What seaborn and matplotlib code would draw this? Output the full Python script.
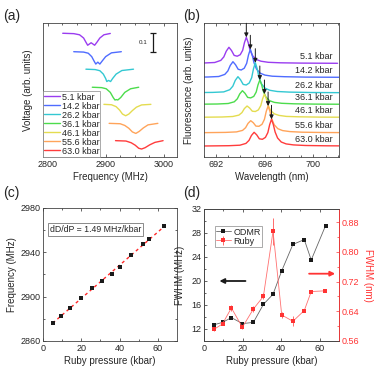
import numpy as np
import pandas as pd
import matplotlib
matplotlib.use("Agg")
import matplotlib.pyplot as plt
import seaborn as sns

# ---------------- data ----------------
labels = ["5.1 kbar", "14.2 kbar", "26.2 kbar", "36.1 kbar", "46.1 kbar", "55.6 kbar", "63.0 kbar"]
colors = ["#9a3cf0", "#4f6cff", "#33c8d2", "#4cdc4c", "#e4dc50", "#ffa45a", "#ff3c3c"]

# (a) ODMR spectra: frequency (MHz) and voltage (arb.)
odmr_f = [
    [2826, 2845, 2855, 2862, 2866, 2869, 2875, 2881, 2885, 2890, 2897, 2908],
    [2845, 2862, 2870, 2876, 2880, 2883, 2886.5, 2890, 2894, 2900, 2910, 2927],
    [2866, 2882, 2890, 2896, 2900, 2902, 2905, 2908.5, 2912, 2918, 2928, 2948],
    [2877, 2893, 2901, 2908, 2913, 2916, 2918.5, 2921, 2926, 2933, 2943, 2957],
    [2897, 2910, 2918, 2924, 2929, 2934.5, 2940, 2946, 2953, 2962, 2978],
    [2906, 2925, 2933, 2940, 2946, 2952, 2958, 2965, 2973, 2990],
    [2917, 2935, 2944, 2951, 2957, 2962, 2968, 2976, 2985, 2999],
]
odmr_v = [
    [0.651, 0.649, 0.643, 0.626, 0.604, 0.588, 0.601, 0.588, 0.604, 0.626, 0.643, 0.650],
    [0.554, 0.552, 0.546, 0.528, 0.505, 0.489, 0.499, 0.489, 0.505, 0.528, 0.548, 0.554],
    [0.462, 0.460, 0.454, 0.436, 0.413, 0.397, 0.403, 0.397, 0.413, 0.436, 0.455, 0.462],
    [0.367, 0.365, 0.359, 0.340, 0.313, 0.300, 0.302, 0.300, 0.313, 0.340, 0.359, 0.367],
    [0.277, 0.275, 0.265, 0.247, 0.226, 0.217, 0.226, 0.244, 0.262, 0.274, 0.277],
    [0.177, 0.175, 0.166, 0.151, 0.132, 0.124, 0.135, 0.153, 0.169, 0.177],
    [0.086, 0.084, 0.075, 0.062, 0.046, 0.042, 0.049, 0.064, 0.077, 0.086],
]

# (b) ruby fluorescence: R1 position (nm), baseline, profile relative to R1
r1_pos = [694.48, 694.81, 695.22, 695.59, 695.97, 696.27, 696.55]
fl_base = [9.37, 7.97, 6.43, 5.27, 3.97, 2.43, 1.10]
fl_offset = [-5.6, -3.5, -2.6, -2.1, -1.85, -1.65, -1.43, -1.22, -1.0, -0.75, -0.5, -0.3,
             -0.15, 0, 0.15, 0.3, 0.5, 0.8, 1.2, 1.8, 2.8, 4.5, 7.5]
fl_height = [
    [0, 0.3, 0.8, 2.9, 6.4, 12.1, 16, 12.8, 7.9, 7.1, 8.6, 13, 20.8, 26, 20.8, 13.5, 7.8, 3.9, 2.1, 1.0, 0.5, 0.2, 0],
    [0, 0.3, 0.8, 2.9, 6.3, 11.9, 15.6, 12.6, 8.0, 7.3, 9.1, 14.0, 22.4, 28, 22.4, 14.6, 8.4, 4.2, 2.2, 1.1, 0.6, 0.2, 0],
    [0, 0.3, 0.8, 3.0, 6.5, 12.3, 16, 13.0, 8.3, 7.7, 9.7, 15, 24, 30, 24, 15.6, 9, 4.5, 2.4, 1.2, 0.6, 0.2, 0],
    [0, 0.3, 0.8, 2.5, 5.5, 10.4, 13.6, 11.0, 6.9, 6.4, 7.9, 12.2, 19.4, 24.3, 19.4, 12.6, 7.3, 3.6, 1.9, 1.0, 0.5, 0.2, 0],
    [0, 0.3, 0.8, 2.2, 4.7, 8.7, 11.3, 9.3, 6.1, 5.8, 7.4, 11.7, 18.6, 23.3, 18.6, 12.1, 7.0, 3.5, 1.9, 0.9, 0.5, 0.2, 0],
    [0, 0.3, 0.8, 2.3, 5.0, 9.3, 12, 10.0, 6.6, 6.4, 8.4, 13.4, 21.4, 26.7, 21.4, 13.9, 8.0, 4.0, 2.1, 1.1, 0.5, 0.2, 0],
    [0, 0.3, 0.8, 2.6, 5.6, 10.5, 13.7, 11.2, 7.2, 6.7, 8.6, 13.4, 21.4, 26.7, 21.4, 13.9, 8.0, 4.0, 2.1, 1.1, 0.5, 0.2, 0],
]

# (c) zero-field splitting vs ruby pressure
pressure = [5.1, 9.6, 14.2, 19.9, 25.6, 30.8, 35.8, 40.3, 46.1, 52.0, 55.6, 63.0]
freq_c = [2876.6, 2882.9, 2889.9, 2898.6, 2908.0, 2914.3, 2920.3, 2927.0, 2937.2, 2947.4, 2952.3, 2963.4]

# (d) line widths
fwhm_odmr = [12.7, 13.1, 13.9, 12.9, 13.1, 16.1, 17.8, 21.7, 26.1, 26.9, 23.5, 29.2]
fwhm_ruby = [0.591, 0.606, 0.649, 0.597, 0.646, 0.680, 0.855, 0.630, 0.613, 0.642, 0.693, 0.695]
fwhm_ruby_err = [0.004, 0.004, 0.008, 0.006, 0.008, 0.008, 0.036, 0.008, 0.014, 0.004, 0.004, 0.004]

# ---------------- style ----------------
sns.set_theme(style="ticks")
plt.rcParams["font.family"] = ["Liberation Sans", "DejaVu Sans"]
plt.rcParams.update({
    "font.size": 6.5, "axes.labelsize": 7, "xtick.labelsize": 6.5, "ytick.labelsize": 6.5,
    "axes.linewidth": 0.6, "axes.edgecolor": "#444444",
    "xtick.direction": "in", "ytick.direction": "in",
    "xtick.major.size": 2.5, "ytick.major.size": 2.5,
    "xtick.minor.size": 1.5, "ytick.minor.size": 1.5,
    "xtick.major.width": 0.5, "ytick.major.width": 0.5,
    "xtick.minor.width": 0.5, "ytick.minor.width": 0.5,
    "xtick.major.pad": 2, "ytick.major.pad": 2,
    "axes.labelpad": 2,
})

fig = plt.figure(figsize=(3.74, 3.74), dpi=100)
W = 374.0
def box(x0, y0, x1, y1):
    return [x0 / W, 1 - y1 / W, (x1 - x0) / W, (y1 - y0) / W]

ax_a = fig.add_axes(box(43, 23, 177, 157))
ax_b = fig.add_axes(box(204, 23, 339, 157))
ax_c = fig.add_axes(box(43, 208, 177, 341))
ax_d = fig.add_axes(box(204, 209, 339, 341))

# ---------------- (a) ----------------
for f, v, c, lab in zip(odmr_f, odmr_v, colors, labels):
    df = pd.DataFrame({"f": f, "v": v})
    sns.lineplot(data=df, x="f", y="v", ax=ax_a, color=c, lw=1.0, sort=False, label=lab)
ax_a.set_xlim(2792, 3023)
ax_a.set_ylim(0, 0.705)
ax_a.set_xticks([2800, 2900, 3000])
ax_a.set_xticks(np.arange(2825, 3023, 25), minor=True)
ax_a.set_yticks([])
ax_a.tick_params(top=True, which="both")
ax_a.set_xlabel("Frequency (MHz)")
ax_a.set_ylabel("Voltage (arb. units)")
ax_a.yaxis.set_label_coords(-0.075, 0.5)
ax_a.errorbar([2981], [0.603], yerr=[0.05], color="k", capsize=2.5, lw=0.9, capthick=0.9)
ax_a.text(2972, 0.603, "0.1", fontsize=4.5, ha="right", va="center")
ax_a.legend(loc="lower left", bbox_to_anchor=(0, 0), borderaxespad=0, fontsize=6.5,
            labelspacing=0.0, handlelength=1.7, handletextpad=0.2, borderpad=0.15,
            fancybox=False, edgecolor="#888888", framealpha=1)
ax_a.legend_.get_frame().set_linewidth(0.5)

# ---------------- (b) ----------------
for pos, base, h, c, lab in zip(r1_pos, fl_base, fl_height, colors, labels):
    df = pd.DataFrame({"wl": [pos + o for o in fl_offset], "I": [base + y / 10 for y in h]})
    sns.lineplot(data=df, x="wl", y="I", ax=ax_b, color=c, lw=1.0, sort=False)
    top = base + max(h) / 10
    ax_b.annotate("", xy=(pos, top), xytext=(pos, top + 1.4),
                  arrowprops=dict(arrowstyle="-|>", color="k", lw=0.7, mutation_scale=6,
                                  shrinkA=0, shrinkB=0))
    ax_b.text(701.6, base + 0.25, lab, ha="right", va="bottom", fontsize=6.5)
ax_b.set_xlim(691.05, 702.1)
ax_b.set_ylim(0, 13.4)
ax_b.set_xticks([692, 696, 700])
ax_b.set_xticks(np.arange(691, 703, 1), minor=True)
ax_b.set_yticks([])
ax_b.tick_params(top=True, which="both")
ax_b.set_xlabel("Wavelength (nm)")
ax_b.set_ylabel("Fluorescence (arb. units)")
ax_b.yaxis.set_label_coords(-0.075, 0.5)

# ---------------- (c) ----------------
slope, icpt = np.polyfit(pressure, freq_c, 1)
fit_x = [pressure[0], pressure[-1]]
ax_c.plot(fit_x, [icpt + slope * p for p in fit_x], color="#ff2a2a", lw=1.0, ls=(0, (2.2, 2.2)))
sns.scatterplot(x=pressure, y=freq_c, ax=ax_c, marker="s", color="k", s=7, linewidth=0, zorder=3)
ax_c.set_xlim(0, 70)
ax_c.set_ylim(2860, 2980)
ax_c.set_xticks([0, 20, 40, 60])
ax_c.set_xticks(np.arange(10, 70, 20), minor=True)
ax_c.set_yticks([2860, 2900, 2940, 2980])
ax_c.set_yticks(np.arange(2880, 2980, 40), minor=True)
ax_c.tick_params(top=True, right=True, which="both")
ax_c.set_xlabel("Ruby pressure (kbar)")
ax_c.set_ylabel("Frequency (MHz)")
ax_c.text(0.05, 0.84, "dD/dP = 1.49 MHz/kbar", transform=ax_c.transAxes, fontsize=6.3,
          va="center", ha="left",
          bbox=dict(boxstyle="square,pad=0.25", fc="white", ec="#777777", lw=0.6))

# ---------------- (d) ----------------
red = "#ff3333"
sns.lineplot(x=pressure, y=fwhm_odmr, ax=ax_d, color="#666666", lw=0.6, marker="s",
             markersize=2.6, markerfacecolor="k", markeredgewidth=0, label="ODMR", legend=False)
ax_r = ax_d.twinx()
ax_r.errorbar(pressure, fwhm_ruby, yerr=fwhm_ruby_err, color="#ff7070", lw=0.6, marker="s",
              markersize=2.6, markerfacecolor=red, markeredgewidth=0, ecolor=red, elinewidth=0.5,
              capsize=1.2, capthick=0.5, label="Ruby")
ax_d.set_xlim(0, 70)
ax_d.set_ylim(10, 32)
ax_r.set_ylim(0.56, 0.915)
ax_d.set_xticks([0, 20, 40, 60])
ax_d.set_xticks(np.arange(10, 70, 20), minor=True)
ax_d.set_yticks([12, 16, 20, 24, 28, 32])
ax_d.set_yticks(np.arange(14, 32, 4), minor=True)
ax_r.set_yticks([0.56, 0.64, 0.72, 0.80, 0.88])
ax_r.set_yticklabels(["0.56", "0.64", "0.72", "0.80", "0.88"])
ax_r.set_yticks(np.arange(0.60, 0.915, 0.08), minor=True)
ax_d.tick_params(top=True, which="both")
ax_r.tick_params(axis="y", which="both", colors=red)
ax_r.spines["right"].set_color(red)
ax_d.set_xlabel("Ruby pressure (kbar)")
ax_d.set_ylabel("FWHM (MHz)")
ax_d.yaxis.set_label_coords(-0.14, 0.5)
ax_r.set_ylabel("FWHM (nm)", color=red, rotation=270, va="center")
ax_r.yaxis.set_label_coords(1.215, 0.5)
ax_d.annotate("", xy=(8, 20), xytext=(21.5, 20),
              arrowprops=dict(arrowstyle="-|>", color="k", lw=1.3, mutation_scale=7,
                              shrinkA=0, shrinkB=0))
ax_r.annotate("", xy=(68, 0.741), xytext=(54.5, 0.741),
              arrowprops=dict(arrowstyle="-|>", color=red, lw=1.3, mutation_scale=7,
                              shrinkA=0, shrinkB=0))
h1, l1 = ax_d.get_legend_handles_labels()
h2, l2 = ax_r.get_legend_handles_labels()
leg = ax_r.legend(h1 + h2, l1 + l2, loc="upper left", bbox_to_anchor=(0.08, 0.87), borderaxespad=0,
                  fontsize=6.5, labelspacing=0.0, handlelength=1.6, handletextpad=0.3, borderpad=0.15,
                  fancybox=False, edgecolor="#888888", framealpha=1)
leg.get_frame().set_linewidth(0.5)

# ---------------- panel labels ----------------
for x, y, t in [(3, 16, "(a)"), (183, 16, "(b)"), (3, 193, "(c)"), (183, 193, "(d)")]:
    fig.text(x / W, 1 - y / W, t, fontsize=10, va="center", ha="left")

fig.savefig("out.png", dpi=100)
